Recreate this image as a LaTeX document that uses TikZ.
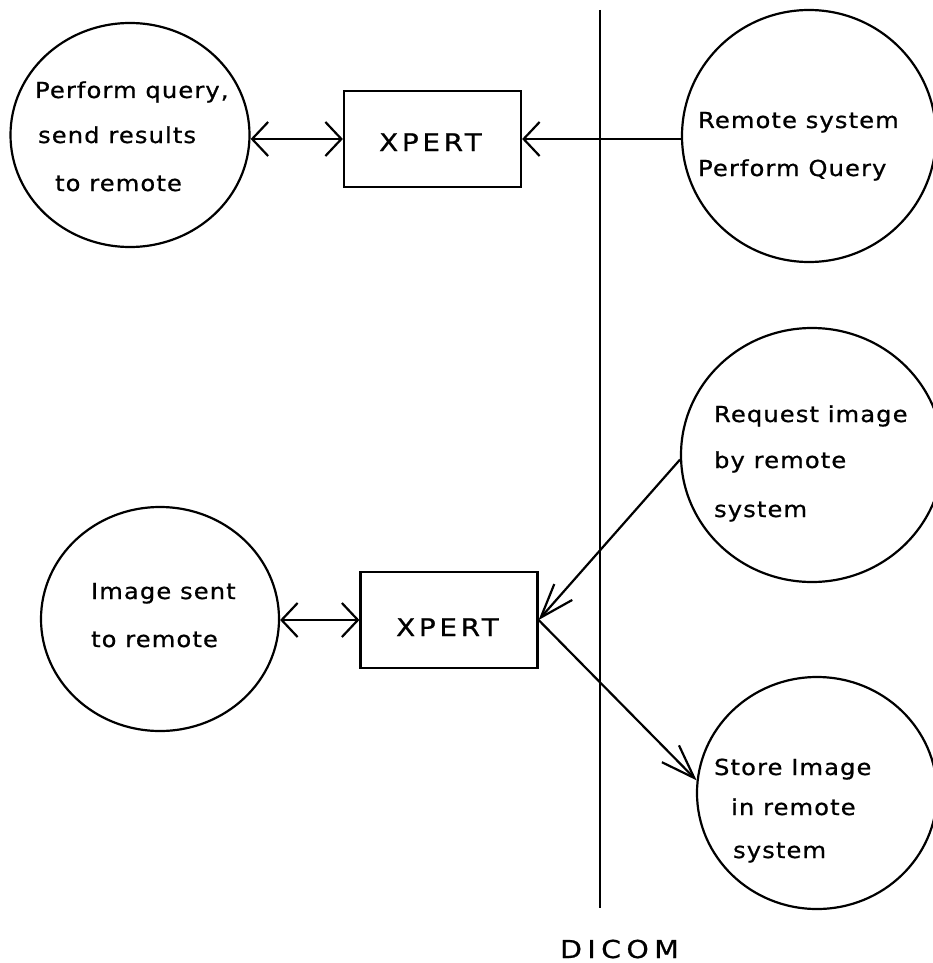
\documentclass[tikz,border=0pt]{standalone}
\usepackage{fontspec}
\setmainfont{DejaVu Sans}
\newfontfamily\lblfont[FakeStretch=1.1,LetterSpace=5,FakeBold=0.8]{DejaVu Sans}
\newfontfamily\boxfont[FakeStretch=1.15,LetterSpace=15,FakeBold=0.8]{DejaVu Sans}
\newfontfamily\dicomfont[FakeStretch=1.15,LetterSpace=22,FakeBold=0.8]{DejaVu Sans}
\usetikzlibrary{arrows.meta,shapes.geometric}
\tikzset{
  WideBarb/.tip={Straight Barb[length=16pt,width=34pt]},
  NarrowBarb/.tip={Straight Barb[length=34pt,width=24pt]},
  bubble/.style={ellipse, draw, inner sep=0pt},
  xbox/.style={rectangle, draw, inner sep=0pt, minimum width=177pt, minimum height=96pt},
  lbl/.style={anchor=base west, inner sep=0pt, font=\lblfont\fontsize{22}{26}\selectfont},
  boxlbl/.style={anchor=base west, inner sep=0pt, font=\boxfont\fontsize{24.3}{28}\selectfont},
}
\begin{document}
\begin{tikzpicture}[x=1pt, y=-1pt, line width=2.2pt]
\useasboundingbox (0,0) rectangle (932,963);
% separator
\coordinate (vtop) at (600,10);
\coordinate (vbot) at (600,908);
\draw (vtop) -- (vbot);
\node[anchor=base west, inner sep=0pt, font=\dicomfont\fontsize{24.7}{28}\selectfont] (dicom) at (559,958) {DICOM};
% ellipses
\node[bubble, minimum width=239pt, minimum height=224pt] (c1) at (130,135) {};
\node[bubble, minimum width=254pt, minimum height=252pt] (c2) at (809,136) {};
\node[bubble, minimum width=262pt, minimum height=254pt] (c3) at (812,455) {};
\node[bubble, minimum width=240pt, minimum height=232pt] (c4) at (817,793) {};
\node[bubble, minimum width=238pt, minimum height=224pt] (c5) at (160,619) {};
% boxes
\node[xbox] (b1) at (432.5,139) {};
\node[xbox] (b2) at (449,620) {};
\node[boxlbl] (x1) at (378,151) {XPERT};
\node[boxlbl] (x2) at (395,636) {XPERT};
% texts
\node[lbl] (t1a) at (34,98) {Perform query,};
\node[lbl] (t1b) at (37,143) {send results};
\node[lbl] (t1c) at (54,191) {to remote};
\node[lbl] (t2a) at (697,128) {Remote system};
\node[lbl] (t2b) at (697,176) {Perform Query};
\node[lbl] (t3a) at (713,422) {Request image};
\node[lbl] (t3b) at (713,468) {by remote};
\node[lbl] (t3c) at (713,517) {system};
\node[lbl] (t4a) at (713,775) {Store Image};
\node[lbl] (t4b) at (730,815) {in remote};
\node[lbl] (t4c) at (732,858) {system};
\node[lbl] (t5a) at (90,599) {Image sent};
\node[lbl] (t5b) at (90,647) {to remote};
% connectors
\draw[WideBarb-WideBarb] (c1.east |- b1.west) -- (b1.west);
\draw[-WideBarb] (c2.west |- b1.east) -- (b1.east);
\draw[WideBarb-WideBarb] (c5.east |- b2.west) -- (b2.west);
\draw[-NarrowBarb] (c3.182) -- (b2.east);
\draw[-NarrowBarb] (b2.east) -- (c4.174);
\end{tikzpicture}
\end{document}
